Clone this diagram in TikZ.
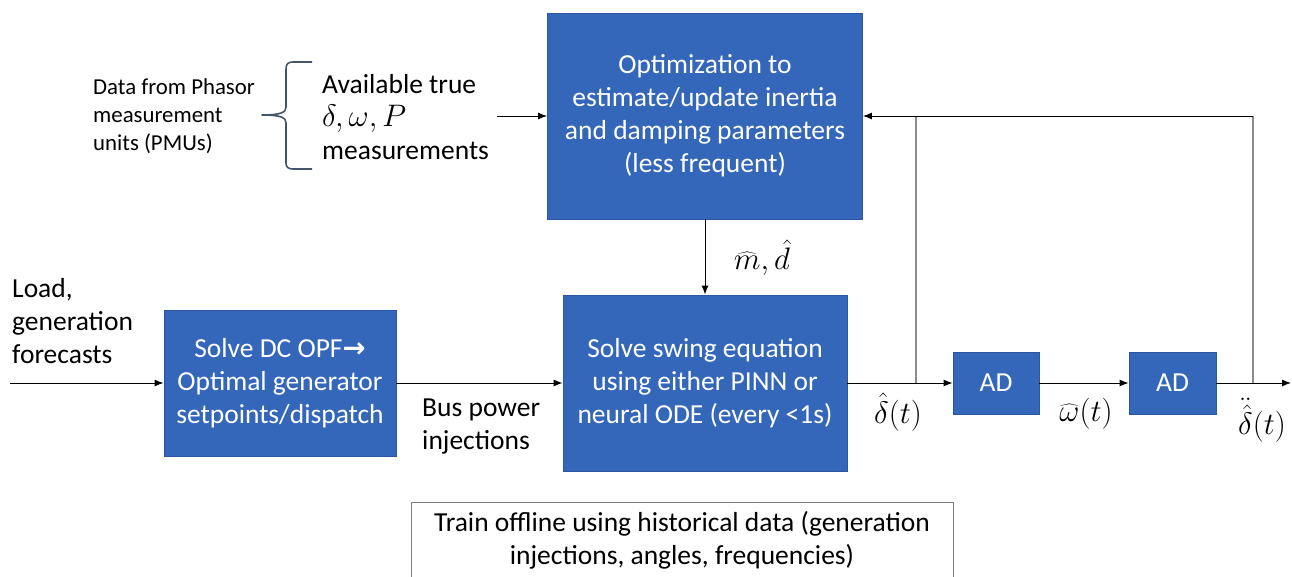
\documentclass[tikz,border=0pt]{standalone}
\usepackage{fontspec}
\setmainfont{Carlito}
\newfontfamily\arrowfont{DejaVu Sans}
\usetikzlibrary{arrows.meta}

\definecolor{boxblue}{RGB}{52,103,186}
\definecolor{boxedge}{RGB}{44,86,160}
\definecolor{bracecol}{RGB}{68,84,106}
\definecolor{linkgray}{RGB}{140,140,140}

% math at display size, enlarged past the largest design size
\newcommand{\bigmath}[1]{\scalebox{1.25}{$#1$}}

\tikzset{
  bluebox/.style={draw=boxedge, line width=0.8pt, fill=boxblue, text=white,
    align=center, inner sep=0pt, font=\fontsize{27.5}{33}\selectfont},
  plain/.style={align=left, inner sep=0pt, font=\fontsize{27.5}{33}\selectfont},
  smalltext/.style={align=left, inner sep=0pt, font=\fontsize{22.8}{28}\selectfont},
  mathlabel/.style={inner sep=0pt, font=\fontsize{24.88}{30}\selectfont},
  arr/.style={-{Latex[length=9pt,width=7pt]}, line width=1pt, black},
  tap/.style={line width=1.4pt, linkgray},
  bracestyle/.style={bracecol, line width=1.6pt, line join=round},
}

\begin{document}
\begin{tikzpicture}[x=1pt, y=-1pt]
\useasboundingbox (0,0) rectangle (1292,576);

% processing blocks
\node[bluebox, minimum width=315pt, minimum height=206pt] (opt) at (705,116)
  {Optimization to\\estimate/update inertia\\and damping parameters\\(less frequent)};
\node[bluebox, minimum width=284pt, minimum height=176pt] (swing) at (705,383)
  {Solve swing equation\\using either PINN or\\neural ODE (every <1s)};
\node[bluebox, minimum width=232pt, minimum height=146pt] (opf) at (280,383)
  {Solve DC OPF{\arrowfont\bfseries →}\\Optimal generator\\setpoints/dispatch};
\node[bluebox, minimum width=86pt, minimum height=62pt] (ad1) at (996,383) {AD};
\node[bluebox, minimum width=87pt, minimum height=62pt] (ad2) at (1172.5,383) {AD};

% offline training note (runs past the lower edge)
\begin{scope}
  \clip (0,0) rectangle (1292,576);
  \draw[linkgray!90!black, line width=1pt] (411,610) -- (411,502) -- (953,502) -- (953,610);
\end{scope}
\node[align=center, inner sep=0pt, font=\fontsize{27.5}{33}\selectfont] (train) at (682,540)
  {Train offline using historical data (generation\\injections, angles, frequencies)};

% measurement inputs
\node[smalltext, anchor=west] (pmu) at (93,116) {Data from Phasor\\measurement\\units (PMUs)};
\draw[bracestyle] (312,62) -- (293,62) .. controls (288,62) and (286,64) .. (286,69)
  -- (286,107) .. controls (286,112) and (282,115) .. (262,115)
  .. controls (282,115) and (286,118) .. (286,123)
  -- (286,163) .. controls (286,167) and (288,169) .. (293,169) -- (312,169);
\node[plain, anchor=west] (meas) at (322,117)
  {Available true\\{\fontsize{24.88}{33}\selectfont\bigmath{\delta,\omega,P}}\\measurements};
\coordinate (measout) at (497,116);
\draw[arr] (measout) -- (opt.west |- measout);

% forecast input
\node[plain, anchor=west] (load) at (12,321) {Load,\\generation\\forecasts};
\coordinate (loadin) at (10,383);
\draw[arr] (loadin) -- (opf.west);

% forward chain
\draw[arr] (opf.east) -- (swing.west);
\node[plain, anchor=west] (bus) at (422,427) {Bus power\\injections};
\draw[arr] (opt.south) -- (swing.north);
\node[mathlabel] (md) at (762,258) {\bigmath{\widehat{m},\hat{d}}};

\coordinate (tap1) at (916,383);
\coordinate (tap2) at (1253,383);
\coordinate (fbtop) at (1253,116);
\coordinate (outend) at (1291,383);
\draw[tap] (tap1) -- (tap1 |- fbtop);
\draw[tap] (tap2) -- (fbtop);
\draw[arr] (swing.east) -- (ad1.west);
\draw[arr] (ad1.east) -- (ad2.west);
\draw[arr] (ad2.east) -- (outend);
\draw[arr] (fbtop) -- (opt.east |- fbtop);

\node[mathlabel] (dhat) at (898,412) {\bigmath{\hat{\delta}(t)}};
\node[mathlabel] (what) at (1086,414) {\bigmath{\widehat{\omega}(t)}};
\node[mathlabel] (ddhat) at (1262,420) {\bigmath{\ddot{\hat{\delta}}(t)}};
\end{tikzpicture}
\end{document}
